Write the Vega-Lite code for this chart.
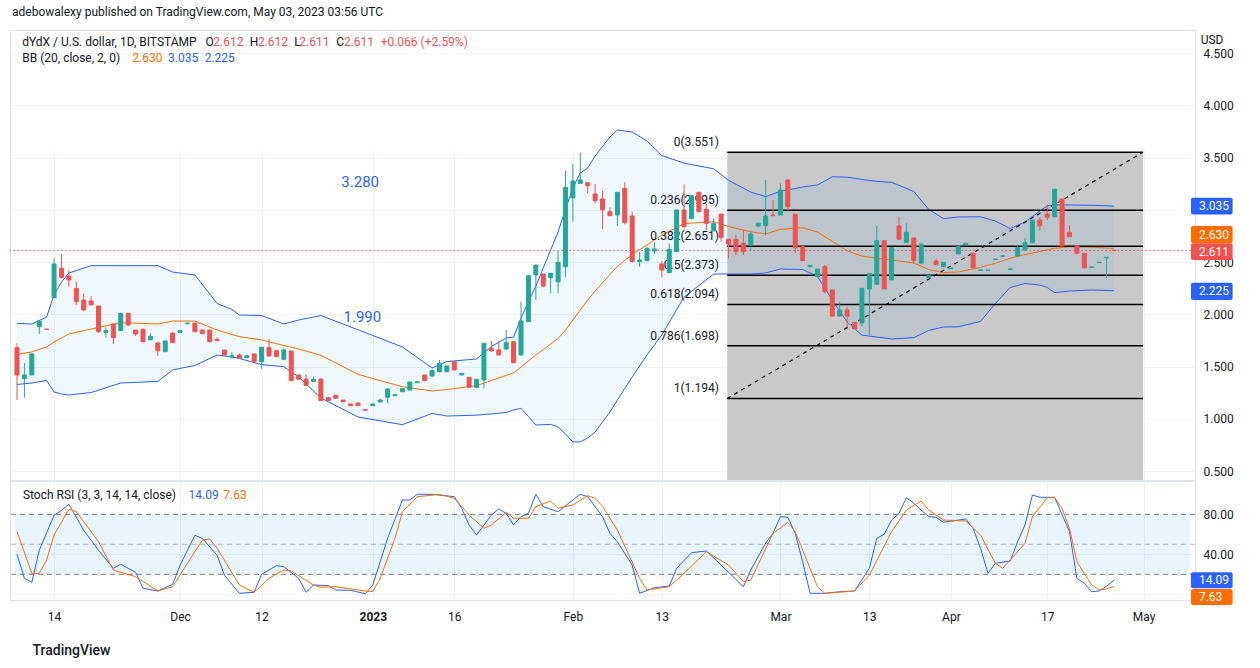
{
"$schema": "https://vega.github.io/schema/vega-lite/v6.json",
"width": 1185, "height": 570,
"autosize": "none",
"padding": {"left": 10, "top": 30, "right": 65, "bottom": 68},
"background": "#ffffff",
"title": {"text": "adebowalexy published on TradingView.com, May 03, 2023 03:56 UTC", "anchor": "start", "frame": "group", "offset": 11, "dx": 2, "fontSize": 12, "fontWeight": "normal", "color": "#131722", "font": "Roboto"},
"config": {
  "view": {"stroke": "#e0e3eb"},
  "font": "Roboto",
  "text": {"font": "Roboto"},
  "axis": {"labelFont": "Roboto", "labelFontSize": 12, "labelColor": "#131722", "domain": false, "ticks": false, "tickSize": 0, "gridColor": "#f0f3fa", "gridWidth": 1}
},
"data": {"values": [{}]},
"datasets": {
"ohlc": [
{"i":0,"o":1.680,"h":1.722,"l":1.179,"c":1.419},{"i":1,"o":1.383,"h":1.531,"l":1.201,"c":1.419},{"i":2,"o":1.419,"h":1.625,"l":1.419,"c":1.620},{"i":3,"o":1.881,"h":1.935,"l":1.811,"c":1.935},{"i":4,"o":1.858,"h":1.858,"l":1.855,"c":1.855},
{"i":5,"o":2.158,"h":2.535,"l":2.158,"c":2.481},{"i":6,"o":2.440,"h":2.577,"l":2.350,"c":2.350},{"i":7,"o":2.366,"h":2.423,"l":2.264,"c":2.328},{"i":8,"o":2.248,"h":2.311,"l":2.089,"c":2.120},{"i":9,"o":2.136,"h":2.200,"l":2.034,"c":2.041},
{"i":10,"o":2.127,"h":2.175,"l":2.089,"c":2.089},{"i":11,"o":2.079,"h":2.079,"l":1.823,"c":1.833},{"i":12,"o":1.827,"h":1.875,"l":1.776,"c":1.843},{"i":13,"o":1.907,"h":1.907,"l":1.715,"c":1.776},{"i":14,"o":1.843,"h":2.009,"l":1.843,"c":2.009},
{"i":15,"o":2.009,"h":2.009,"l":1.888,"c":1.897},{"i":16,"o":1.849,"h":1.849,"l":1.792,"c":1.811},{"i":17,"o":1.856,"h":1.865,"l":1.737,"c":1.737},{"i":18,"o":1.756,"h":1.818,"l":1.756,"c":1.789},{"i":19,"o":1.725,"h":1.737,"l":1.603,"c":1.651},
{"i":20,"o":1.642,"h":1.744,"l":1.642,"c":1.744},{"i":21,"o":1.821,"h":1.821,"l":1.728,"c":1.728},{"i":22,"o":1.827,"h":1.843,"l":1.827,"c":1.843},{"i":23,"o":1.909,"h":1.916,"l":1.909,"c":1.916},{"i":24,"o":1.916,"h":1.916,"l":1.833,"c":1.833},
{"i":25,"o":1.849,"h":1.849,"l":1.814,"c":1.814},{"i":26,"o":1.849,"h":1.849,"l":1.737,"c":1.737},{"i":27,"o":1.760,"h":1.779,"l":1.747,"c":1.747},{"i":28,"o":1.658,"h":1.658,"l":1.610,"c":1.610},{"i":29,"o":1.592,"h":1.636,"l":1.572,"c":1.603},
{"i":30,"o":1.610,"h":1.626,"l":1.572,"c":1.578},{"i":31,"o":1.584,"h":1.603,"l":1.584,"c":1.603},{"i":32,"o":1.620,"h":1.620,"l":1.536,"c":1.546},{"i":33,"o":1.546,"h":1.684,"l":1.476,"c":1.684},{"i":34,"o":1.680,"h":1.763,"l":1.600,"c":1.600},
{"i":35,"o":1.651,"h":1.651,"l":1.594,"c":1.594},{"i":36,"o":1.569,"h":1.674,"l":1.569,"c":1.658},{"i":37,"o":1.648,"h":1.648,"l":1.364,"c":1.364},{"i":38,"o":1.419,"h":1.419,"l":1.378,"c":1.378},{"i":39,"o":1.380,"h":1.425,"l":1.320,"c":1.320},
{"i":40,"o":1.358,"h":1.402,"l":1.358,"c":1.377},{"i":41,"o":1.380,"h":1.380,"l":1.173,"c":1.173},{"i":42,"o":1.201,"h":1.211,"l":1.173,"c":1.173},{"i":43,"o":1.224,"h":1.224,"l":1.196,"c":1.196},{"i":44,"o":1.179,"h":1.179,"l":1.163,"c":1.163},
{"i":45,"o":1.141,"h":1.141,"l":1.125,"c":1.125},{"i":46,"o":1.151,"h":1.151,"l":1.125,"c":1.125},{"i":47,"o":1.087,"h":1.087,"l":1.081,"c":1.081},{"i":48,"o":1.125,"h":1.141,"l":1.125,"c":1.141},{"i":49,"o":1.160,"h":1.192,"l":1.160,"c":1.179},
{"i":50,"o":1.205,"h":1.285,"l":1.148,"c":1.285},{"i":51,"o":1.221,"h":1.230,"l":1.221,"c":1.230},{"i":52,"o":1.259,"h":1.288,"l":1.259,"c":1.288},{"i":53,"o":1.275,"h":1.352,"l":1.275,"c":1.352},{"i":54,"o":1.345,"h":1.355,"l":1.345,"c":1.355},
{"i":55,"o":1.419,"h":1.419,"l":1.364,"c":1.364},{"i":56,"o":1.409,"h":1.473,"l":1.402,"c":1.460},{"i":57,"o":1.450,"h":1.562,"l":1.450,"c":1.531},{"i":58,"o":1.450,"h":1.505,"l":1.450,"c":1.505},{"i":59,"o":1.546,"h":1.546,"l":1.467,"c":1.467},
{"i":60,"o":1.419,"h":1.435,"l":1.419,"c":1.435},{"i":61,"o":1.397,"h":1.397,"l":1.301,"c":1.301},{"i":62,"o":1.301,"h":1.377,"l":1.301,"c":1.377},{"i":63,"o":1.371,"h":1.722,"l":1.291,"c":1.722},{"i":64,"o":1.674,"h":1.744,"l":1.648,"c":1.648},
{"i":65,"o":1.658,"h":1.744,"l":1.610,"c":1.610},{"i":66,"o":1.667,"h":1.849,"l":1.667,"c":1.728},{"i":67,"o":1.737,"h":1.737,"l":1.536,"c":1.536},{"i":68,"o":1.610,"h":2.120,"l":1.610,"c":1.936},{"i":69,"o":1.929,"h":2.369,"l":1.929,"c":2.369},
{"i":70,"o":2.376,"h":2.471,"l":2.136,"c":2.471},{"i":71,"o":2.385,"h":2.385,"l":2.258,"c":2.270},{"i":72,"o":2.350,"h":2.392,"l":2.200,"c":2.392},{"i":73,"o":2.311,"h":2.608,"l":2.200,"c":2.497},{"i":74,"o":2.455,"h":3.374,"l":2.354,"c":3.215},
{"i":75,"o":3.115,"h":3.438,"l":2.886,"c":3.275},{"i":76,"o":3.253,"h":3.546,"l":3.253,"c":3.285},{"i":77,"o":3.259,"h":3.259,"l":3.157,"c":3.230},{"i":78,"o":3.151,"h":3.246,"l":3.062,"c":3.087},{"i":79,"o":3.103,"h":3.182,"l":2.816,"c":2.998},
{"i":80,"o":2.981,"h":3.023,"l":2.943,"c":2.943},{"i":81,"o":2.950,"h":3.167,"l":2.844,"c":3.167},{"i":82,"o":3.205,"h":3.263,"l":2.861,"c":2.876},{"i":83,"o":2.940,"h":2.981,"l":2.503,"c":2.503},{"i":84,"o":2.503,"h":2.599,"l":2.455,"c":2.519},
{"i":85,"o":2.512,"h":2.640,"l":2.512,"c":2.631},{"i":86,"o":2.605,"h":2.694,"l":2.576,"c":2.624},{"i":87,"o":2.481,"h":2.512,"l":2.354,"c":2.423},{"i":88,"o":2.398,"h":2.679,"l":2.398,"c":2.622},{"i":89,"o":2.599,"h":2.998,"l":2.599,"c":2.998},
{"i":90,"o":2.998,"h":3.243,"l":2.822,"c":2.838},{"i":91,"o":2.918,"h":3.134,"l":2.918,"c":3.134},{"i":92,"o":3.167,"h":3.167,"l":2.981,"c":2.981},{"i":93,"o":3.004,"h":3.062,"l":2.806,"c":2.870},{"i":94,"o":2.797,"h":2.918,"l":2.797,"c":2.870},
{"i":95,"o":2.959,"h":2.959,"l":2.694,"c":2.736},{"i":96,"o":2.717,"h":2.720,"l":2.535,"c":2.672},{"i":97,"o":2.717,"h":2.758,"l":2.567,"c":2.599},{"i":98,"o":2.679,"h":2.806,"l":2.567,"c":2.599},{"i":99,"o":2.669,"h":2.800,"l":2.605,"c":2.768},
{"i":100,"o":2.845,"h":2.880,"l":2.832,"c":2.870},{"i":101,"o":2.848,"h":3.285,"l":2.759,"c":2.940},{"i":102,"o":2.950,"h":3.093,"l":2.943,"c":2.943},{"i":103,"o":2.950,"h":3.253,"l":2.950,"c":3.189},{"i":104,"o":3.285,"h":3.285,"l":2.981,"c":3.029},
{"i":105,"o":2.957,"h":2.957,"l":2.589,"c":2.637},{"i":106,"o":2.647,"h":2.647,"l":2.510,"c":2.513},{"i":107,"o":2.455,"h":2.468,"l":2.455,"c":2.468},{"i":108,"o":2.359,"h":2.433,"l":2.359,"c":2.433},{"i":109,"o":2.455,"h":2.471,"l":2.200,"c":2.216},
{"i":110,"o":2.232,"h":2.232,"l":1.983,"c":1.983},{"i":111,"o":1.983,"h":2.120,"l":1.983,"c":2.041},{"i":112,"o":2.041,"h":2.066,"l":1.866,"c":1.983},{"i":113,"o":1.923,"h":1.923,"l":1.859,"c":1.859},{"i":114,"o":1.919,"h":2.248,"l":1.881,"c":2.248},
{"i":115,"o":2.242,"h":2.392,"l":1.802,"c":2.392},{"i":116,"o":2.287,"h":2.845,"l":2.287,"c":2.704},{"i":117,"o":2.704,"h":2.704,"l":2.242,"c":2.242},{"i":118,"o":2.328,"h":2.637,"l":2.328,"c":2.637},{"i":119,"o":2.845,"h":2.934,"l":2.717,"c":2.717},
{"i":120,"o":2.685,"h":2.870,"l":2.685,"c":2.784},{"i":121,"o":2.730,"h":2.730,"l":2.481,"c":2.513},{"i":122,"o":2.488,"h":2.672,"l":2.488,"c":2.672},{"i":123,"o":2.350,"h":2.369,"l":2.350,"c":2.369},{"i":124,"o":2.510,"h":2.529,"l":2.474,"c":2.474},
{"i":125,"o":2.455,"h":2.497,"l":2.455,"c":2.497},{"i":126,"o":2.436,"h":2.443,"l":2.436,"c":2.443},{"i":127,"o":2.577,"h":2.647,"l":2.577,"c":2.647},{"i":128,"o":2.666,"h":2.679,"l":2.666,"c":2.679},{"i":129,"o":2.583,"h":2.583,"l":2.445,"c":2.445},
{"i":130,"o":2.420,"h":2.424,"l":2.420,"c":2.424},{"i":131,"o":2.420,"h":2.424,"l":2.420,"c":2.424},{"i":132,"o":2.524,"h":2.528,"l":2.524,"c":2.528},{"i":133,"o":2.555,"h":2.559,"l":2.555,"c":2.559},{"i":134,"o":2.430,"h":2.434,"l":2.430,"c":2.434},
{"i":135,"o":2.558,"h":2.663,"l":2.558,"c":2.637},{"i":136,"o":2.615,"h":2.733,"l":2.615,"c":2.685},{"i":137,"o":2.685,"h":2.902,"l":2.685,"c":2.902},{"i":138,"o":2.902,"h":2.928,"l":2.800,"c":2.847},{"i":139,"o":2.959,"h":3.052,"l":2.902,"c":2.928},
{"i":140,"o":2.933,"h":3.196,"l":2.933,"c":3.196},{"i":141,"o":3.103,"h":3.103,"l":2.653,"c":2.653},{"i":142,"o":2.784,"h":2.854,"l":2.742,"c":2.742},{"i":143,"o":2.653,"h":2.653,"l":2.583,"c":2.583},{"i":144,"o":2.583,"h":2.583,"l":2.445,"c":2.445},
{"i":145,"o":2.449,"h":2.453,"l":2.449,"c":2.453},{"i":146,"o":2.494,"h":2.498,"l":2.494,"c":2.498},{"i":147,"o":2.540,"h":2.551,"l":2.344,"c":2.545},{"i":148,"o":2.612,"h":2.612,"l":2.611,"c":2.611}
],
"bb": [
{"i":0,"up":1.913,"mid":1.617,"lo":1.328},{"i":2,"up":1.907,"mid":1.639,"lo":1.342},{"i":4,"up":1.974,"mid":1.687,"lo":1.366},{"i":5,"up":2.186,"mid":1.735,"lo":1.256},{"i":6,"up":2.309,"mid":1.773,"lo":1.237},
{"i":7,"up":2.395,"mid":1.811,"lo":1.227},{"i":10,"up":2.465,"mid":1.859,"lo":1.251},{"i":14,"up":2.465,"mid":1.919,"lo":1.342},{"i":19,"up":2.465,"mid":1.907,"lo":1.357},{"i":21,"up":2.404,"mid":1.935,"lo":1.467},
{"i":24,"up":2.376,"mid":1.935,"lo":1.510},{"i":27,"up":2.103,"mid":1.849,"lo":1.610},{"i":29,"up":2.046,"mid":1.806,"lo":1.591},{"i":30,"up":1.993,"mid":1.786,"lo":1.577},{"i":33,"up":1.988,"mid":1.754,"lo":1.517},
{"i":36,"up":1.907,"mid":1.701,"lo":1.499},{"i":38,"up":1.945,"mid":1.668,"lo":1.400},{"i":41,"up":1.988,"mid":1.607,"lo":1.199},{"i":46,"up":1.852,"mid":1.425,"lo":1.017},{"i":52,"up":1.687,"mid":1.306,"lo":0.943},
{"i":56,"up":1.486,"mid":1.266,"lo":1.051},{"i":58,"up":1.548,"mid":1.279,"lo":1.026},{"i":62,"up":1.572,"mid":1.317,"lo":1.034},{"i":64,"up":1.691,"mid":1.366,"lo":1.046},{"i":66,"up":1.773,"mid":1.415,"lo":1.060},
{"i":67,"up":1.782,"mid":1.438,"lo":1.084},{"i":68,"up":1.964,"mid":1.495,"lo":1.100},{"i":69,"up":2.117,"mid":1.553,"lo":1.022},{"i":70,"up":2.270,"mid":1.610,"lo":0.940},{"i":71,"up":2.443,"mid":1.661,"lo":0.943},
{"i":72,"up":2.615,"mid":1.715,"lo":0.946},{"i":73,"up":2.787,"mid":1.769,"lo":0.921},{"i":74,"up":3.007,"mid":1.849,"lo":0.854},{"i":75,"up":3.208,"mid":1.945,"lo":0.778},{"i":76,"up":3.352,"mid":2.041,"lo":0.778},
{"i":77,"up":3.400,"mid":2.136,"lo":0.816},{"i":78,"up":3.514,"mid":2.222,"lo":0.873},{"i":80,"up":3.696,"mid":2.380,"lo":1.065},{"i":81,"up":3.763,"mid":2.459,"lo":1.179},{"i":83,"up":3.744,"mid":2.572,"lo":1.400},
{"i":85,"up":3.658,"mid":2.663,"lo":1.610},{"i":87,"up":3.519,"mid":2.758,"lo":1.802},{"i":90,"up":3.446,"mid":2.868,"lo":2.165},{"i":94,"up":3.392,"mid":2.886,"lo":2.385},{"i":96,"up":3.282,"mid":2.840,"lo":2.385},
{"i":99,"up":3.170,"mid":2.789,"lo":2.385},{"i":101,"up":3.125,"mid":2.768,"lo":2.395},{"i":103,"up":3.177,"mid":2.813,"lo":2.433},{"i":106,"up":3.218,"mid":2.828,"lo":2.428},{"i":108,"up":3.237,"mid":2.787,"lo":2.361},
{"i":110,"up":3.316,"mid":2.698,"lo":2.136},{"i":112,"up":3.312,"mid":2.607,"lo":1.926},{"i":114,"up":3.290,"mid":2.557,"lo":1.800},{"i":116,"up":3.272,"mid":2.536,"lo":1.782},{"i":118,"up":3.263,"mid":2.519,"lo":1.763},
{"i":121,"up":3.175,"mid":2.491,"lo":1.776},{"i":123,"up":3.004,"mid":2.428,"lo":1.845},{"i":125,"up":2.915,"mid":2.399,"lo":1.878},{"i":127,"up":2.931,"mid":2.404,"lo":1.880},{"i":130,"up":2.933,"mid":2.449,"lo":1.931},
{"i":132,"up":2.892,"mid":2.488,"lo":2.103},{"i":134,"up":2.820,"mid":2.536,"lo":2.256},{"i":136,"up":2.883,"mid":2.571,"lo":2.294},{"i":138,"up":2.988,"mid":2.601,"lo":2.280},{"i":139,"up":3.036,"mid":2.617,"lo":2.256},
{"i":140,"up":3.046,"mid":2.631,"lo":2.207},{"i":142,"up":3.046,"mid":2.646,"lo":2.222},{"i":145,"up":3.043,"mid":2.642,"lo":2.232},{"i":148,"up":3.035,"mid":2.630,"lo":2.225}
],
"k": [
{"i":0,"k":40},{"i":1,"k":16},{"i":2,"k":12},{"i":3,"k":44},{"i":5,"k":79},{"i":6,"k":84},{"i":7,"k":90},{"i":9,"k":64},{"i":11,"k":44},{"i":13,"k":26},{"i":14,"k":30},{"i":16,"k":22},{"i":17,"k":6},{"i":19,"k":3.3},{"i":21,"k":10},{"i":22,"k":29},{"i":24,"k":59},{"i":25,"k":56},{"i":27,"k":39},{"i":28,"k":19},{"i":30,"k":1},{"i":32,"k":2},{"i":33,"k":20},{"i":35,"k":28.6},{"i":36,"k":27.6},{"i":38,"k":16},{"i":39,"k":2},{"i":40,"k":9.3},{"i":42,"k":8.6},{"i":43,"k":4.3},{"i":45,"k":4},{"i":47,"k":0.6},{"i":48,"k":9.3},{"i":50,"k":56},{"i":52,"k":94.3},{"i":53,"k":94.3},{"i":54,"k":100},{"i":56,"k":100},{"i":59,"k":97.6},{"i":60,"k":86},{"i":61,"k":69.3},{"i":62,"k":59.3},{"i":64,"k":79.3},{"i":65,"k":85.3},{"i":66,"k":81},{"i":67,"k":69.3},{"i":68,"k":77.6},{"i":69,"k":81},{"i":70,"k":100},{"i":71,"k":87.6},{"i":73,"k":82.6},{"i":75,"k":94.3},{"i":76,"k":100},{"i":77,"k":97.6},{"i":79,"k":77.6},{"i":80,"k":61},{"i":81,"k":52.6},{"i":83,"k":29.3},{"i":84,"k":1},{"i":86,"k":6.6},{"i":88,"k":8.3},{"i":89,"k":26},{"i":91,"k":41.6},{"i":93,"k":43.3},{"i":95,"k":29.3},{"i":98,"k":7.6},{"i":99,"k":24.3},{"i":101,"k":51},{"i":102,"k":61},{"i":103,"k":77.6},{"i":104,"k":77},{"i":105,"k":61},{"i":106,"k":32.6},{"i":107,"k":1},{"i":109,"k":1},{"i":111,"k":2.6},{"i":113,"k":3.3},{"i":115,"k":26},{"i":116,"k":56},{"i":117,"k":60},{"i":118,"k":74.3},{"i":119,"k":81},{"i":120,"k":96.6},{"i":121,"k":91},{"i":123,"k":77.6},{"i":124,"k":77},{"i":125,"k":72},{"i":128,"k":75.3},{"i":129,"k":66},{"i":130,"k":46},{"i":131,"k":21},{"i":132,"k":31},{"i":134,"k":33.3},{"i":135,"k":52.6},{"i":136,"k":69.3},{"i":137,"k":99.3},{"i":138,"k":97},{"i":140,"k":97},{"i":142,"k":62.6},{"i":143,"k":16},{"i":144,"k":11},{"i":145,"k":2.6},{"i":146,"k":3.3},{"i":147,"k":8},{"i":148,"k":14.09}
],
"d": [
{"i":0,"d":62.6},{"i":2,"d":21},{"i":3,"d":21},{"i":4,"d":34.3},{"i":5,"d":59.3},{"i":7,"d":85},{"i":8,"d":82.6},{"i":11,"d":52.6},{"i":13,"d":24.3},{"i":16,"d":17.6},{"i":19,"d":3.3},{"i":21,"d":7.6},{"i":23,"d":31},{"i":25,"d":54.3},{"i":26,"d":55.3},{"i":27,"d":46},{"i":30,"d":9.3},{"i":32,"d":2},{"i":34,"d":16},{"i":36,"d":24.3},{"i":37,"d":23.3},{"i":40,"d":9.3},{"i":41,"d":7},{"i":43,"d":7.6},{"i":47,"d":3.3},{"i":48,"d":2.6},{"i":49,"d":16},{"i":51,"d":56},{"i":52,"d":82.6},{"i":54,"d":97.6},{"i":57,"d":100},{"i":59,"d":96},{"i":61,"d":79.3},{"i":63,"d":66},{"i":64,"d":69.3},{"i":66,"d":82},{"i":67,"d":76},{"i":69,"d":76},{"i":70,"d":87.6},{"i":72,"d":93.3},{"i":73,"d":86},{"i":75,"d":89.3},{"i":77,"d":98.6},{"i":78,"d":96},{"i":79,"d":88},{"i":80,"d":76},{"i":81,"d":64.3},{"i":84,"d":16},{"i":85,"d":4.3},{"i":88,"d":7.6},{"i":90,"d":21},{"i":93,"d":42.6},{"i":96,"d":29.3},{"i":98,"d":12.6},{"i":99,"d":14.3},{"i":102,"d":61},{"i":104,"d":72},{"i":105,"d":62.6},{"i":108,"d":7.6},{"i":109,"d":1},{"i":113,"d":3.3},{"i":115,"d":19.3},{"i":118,"d":62.6},{"i":120,"d":84.3},{"i":122,"d":93.3},{"i":123,"d":84.3},{"i":125,"d":74.3},{"i":128,"d":73.3},{"i":130,"d":59.3},{"i":132,"d":31},{"i":133,"d":26},{"i":134,"d":34.3},{"i":136,"d":51},{"i":137,"d":77.6},{"i":139,"d":96.6},{"i":140,"d":96.6},{"i":141,"d":86},{"i":142,"d":66},{"i":143,"d":32.6},{"i":145,"d":9.3},{"i":146,"d":4.3},{"i":147,"d":5.5},{"i":148,"d":7.63}
],
"fib": [
{"p":3.551,"t":"0(3.551)"},{"p":2.995,"t":"0.236(2.995)"},{"p":2.651,"t":"0.382(2.651)"},{"p":2.373,"t":"0.5(2.373)"},{"p":2.094,"t":"0.618(2.094)"},{"p":1.698,"t":"0.786(1.698)"},{"p":1.194,"t":"1(1.194)"}
]
},
"layer": [
{
"layer": [
 {"mark": {"type": "rect", "color": "#c9c9c9"},
  "encoding": {"x": {"datum": 95.83, "type": "quantitative"}, "x2": {"datum": 151.93}, "y": {"datum": 3.551, "type": "quantitative"}, "y2": {"datum": 0.4139}}},
 {"data": {"name": "bb"}, "mark": {"type": "area", "color": "#2196f3", "opacity": 0.07},
  "encoding": {
   "x": {"field": "i", "type": "quantitative", "scale": {"domain": [-0.27, 158.26], "nice": false, "zero": false},
     "axis": {"values": [5,22,33,48,59,75,87,103,115,126,139,152],
       "labelExpr": "datum.value==5?'14':datum.value==22?'Dec':datum.value==33?'12':datum.value==48?'2023':datum.value==59?'16':datum.value==75?'Feb':datum.value==87?'13':datum.value==103?'Mar':datum.value==115?'13':datum.value==126?'Apr':datum.value==139?'17':datum.value==152?'May':''",
       "labelFontWeight": {"condition": {"test": "datum.value == 48", "value": "bold"}, "value": "normal"},
       "labelPadding": 11, "labelFlush": false, "labelOverlap": false, "grid": true,
       "title": "TradingView", "titleX": 22, "titleY": 50, "titleAlign": "left", "titleAnchor": "start", "titleBaseline": "middle", "titleFontSize": 14, "titleFontWeight": 500, "titleColor": "#131722", "titleFont": "Roboto"}},
   "y": {"field": "up", "type": "quantitative", "scale": {"domain": [0.4139, 4.7202], "range": [450, 0], "nice": false, "zero": false},
     "axis": {"orient": "right", "values": [0.5,1,1.5,2,2.5,3,3.5,4,4.5], "format": ".3f", "labelExpr": "datum.value == 3 ? '' : datum.label", "labelPadding": 8, "grid": true, "title": null, "labelAlign": "left", "labelBaseline": "middle"}},
   "y2": {"field": "lo"}}},
 {"data": {"name": "bb"}, "mark": {"type": "line", "color": "#2962ff", "strokeWidth": 1},
  "encoding": {"x": {"field": "i", "type": "quantitative"}, "y": {"field": "up", "type": "quantitative"}}},
 {"data": {"name": "bb"}, "mark": {"type": "line", "color": "#2962ff", "strokeWidth": 1},
  "encoding": {"x": {"field": "i", "type": "quantitative"}, "y": {"field": "lo", "type": "quantitative"}}},
 {"data": {"name": "bb"}, "mark": {"type": "line", "color": "#ff6d00", "strokeWidth": 1},
  "encoding": {"x": {"field": "i", "type": "quantitative"}, "y": {"field": "mid", "type": "quantitative"}}},
 {"data": {"name": "fib"}, "mark": {"type": "rule", "color": "#000000", "strokeWidth": 1.5},
  "encoding": {"x": {"datum": 95.83, "type": "quantitative"}, "x2": {"datum": 151.93}, "y": {"field": "p", "type": "quantitative"}}},
 {"data": {"name": "fib"}, "mark": {"type": "text", "align": "right", "baseline": "bottom", "dy": -3, "fontSize": 12, "color": "#131722"},
  "encoding": {"x": {"datum": 94.7, "type": "quantitative"}, "y": {"field": "p", "type": "quantitative"}, "text": {"field": "t"}}},
 {"mark": {"type": "rule", "color": "#000000", "strokeWidth": 1.2, "strokeDash": [4, 4]},
  "encoding": {"x": {"datum": 95.83, "type": "quantitative"}, "y": {"datum": 1.194, "type": "quantitative"}, "x2": {"datum": 151.93}, "y2": {"datum": 3.551}}},
 {"mark": {"type": "rule", "color": "#ef5350", "strokeWidth": 1, "strokeDash": [1.5, 2.5]},
  "encoding": {"y": {"datum": 2.611, "type": "quantitative"}}},
 {"mark": {"type": "text", "color": "#2962ff", "fontSize": 15, "align": "center", "baseline": "middle"},
  "encoding": {"x": {"datum": 46.3, "type": "quantitative"}, "y": {"datum": 3.27, "type": "quantitative"}, "text": {"value": "3.280"}}},
 {"mark": {"type": "text", "color": "#2962ff", "fontSize": 15, "align": "center", "baseline": "middle"},
  "encoding": {"x": {"datum": 46.6, "type": "quantitative"}, "y": {"datum": 1.978, "type": "quantitative"}, "text": {"value": "1.990"}}},
 {"data": {"name": "ohlc"}, "mark": {"type": "rule", "strokeWidth": 1},
  "encoding": {"x": {"field": "i", "type": "quantitative"}, "y": {"field": "l", "type": "quantitative"}, "y2": {"field": "h"},
   "color": {"condition": {"test": "datum.c >= datum.o", "value": "#26a69a"}, "value": "#ef5350"}}},
 {"data": {"name": "ohlc"}, "mark": {"type": "bar", "size": 4, "orient": "vertical", "strokeWidth": 1},
  "encoding": {"x": {"field": "i", "type": "quantitative"}, "y": {"field": "o", "type": "quantitative"}, "y2": {"field": "c"},
   "fill": {"condition": {"test": "datum.c >= datum.o", "value": "#26a69a"}, "value": "#ef5350"},
   "stroke": {"condition": {"test": "datum.c >= datum.o", "value": "#26a69a"}, "value": "#ef5350"}}},
 {"mark": {"type": "text", "align": "left", "baseline": "middle", "fontSize": 12, "color": "#131722"},
  "encoding": {"x": {"datum": 0.71, "type": "quantitative"}, "y": {"datum": 4.605, "type": "quantitative"}, "text": {"value": "dYdX / U.S. dollar, 1D, BITSTAMP"}}},
 {"mark": {"type": "text", "align": "left", "baseline": "middle", "fontSize": 12, "color": "#131722"},
  "encoding": {"x": {"datum": 25.42, "type": "quantitative"}, "y": {"datum": 4.605, "type": "quantitative"}, "text": {"value": "O"}}},
 {"mark": {"type": "text", "align": "left", "baseline": "middle", "fontSize": 12, "color": "#131722"},
  "encoding": {"x": {"datum": 31.4, "type": "quantitative"}, "y": {"datum": 4.605, "type": "quantitative"}, "text": {"value": "H"}}},
 {"mark": {"type": "text", "align": "left", "baseline": "middle", "fontSize": 12, "color": "#131722"},
  "encoding": {"x": {"datum": 37.42, "type": "quantitative"}, "y": {"datum": 4.605, "type": "quantitative"}, "text": {"value": "L"}}},
 {"mark": {"type": "text", "align": "left", "baseline": "middle", "fontSize": 12, "color": "#131722"},
  "encoding": {"x": {"datum": 43.08, "type": "quantitative"}, "y": {"datum": 4.605, "type": "quantitative"}, "text": {"value": "C"}}},
 {"mark": {"type": "text", "align": "left", "baseline": "middle", "fontSize": 12, "color": "#ef5350"},
  "encoding": {"x": {"datum": 26.49, "type": "quantitative"}, "y": {"datum": 4.605, "type": "quantitative"}, "text": {"value": "2.612"}}},
 {"mark": {"type": "text", "align": "left", "baseline": "middle", "fontSize": 12, "color": "#ef5350"},
  "encoding": {"x": {"datum": 32.51, "type": "quantitative"}, "y": {"datum": 4.605, "type": "quantitative"}, "text": {"value": "2.612"}}},
 {"mark": {"type": "text", "align": "left", "baseline": "middle", "fontSize": 12, "color": "#ef5350"},
  "encoding": {"x": {"datum": 38.09, "type": "quantitative"}, "y": {"datum": 4.605, "type": "quantitative"}, "text": {"value": "2.611"}}},
 {"mark": {"type": "text", "align": "left", "baseline": "middle", "fontSize": 12, "color": "#ef5350"},
  "encoding": {"x": {"datum": 44.11, "type": "quantitative"}, "y": {"datum": 4.605, "type": "quantitative"}, "text": {"value": "2.611"}}},
 {"mark": {"type": "text", "align": "left", "baseline": "middle", "fontSize": 12, "color": "#ef5350"},
  "encoding": {"x": {"datum": 49.06, "type": "quantitative"}, "y": {"datum": 4.605, "type": "quantitative"}, "text": {"value": "+0.066 (+2.59%)"}}},
 {"mark": {"type": "text", "align": "left", "baseline": "middle", "fontSize": 12, "color": "#131722"},
  "encoding": {"x": {"datum": 0.71, "type": "quantitative"}, "y": {"datum": 4.452, "type": "quantitative"}, "text": {"value": "BB (20, close, 2, 0)"}}},
 {"mark": {"type": "text", "align": "left", "baseline": "middle", "fontSize": 12, "color": "#ff6d00"},
  "encoding": {"x": {"datum": 15.56, "type": "quantitative"}, "y": {"datum": 4.452, "type": "quantitative"}, "text": {"value": "2.630"}}},
 {"mark": {"type": "text", "align": "left", "baseline": "middle", "fontSize": 12, "color": "#2962ff"},
  "encoding": {"x": {"datum": 20.37, "type": "quantitative"}, "y": {"datum": 4.452, "type": "quantitative"}, "text": {"value": "3.035"}}},
 {"mark": {"type": "text", "align": "left", "baseline": "middle", "fontSize": 12, "color": "#2962ff"},
  "encoding": {"x": {"datum": 25.32, "type": "quantitative"}, "y": {"datum": 4.452, "type": "quantitative"}, "text": {"value": "2.225"}}},
 {"mark": {"type": "text", "align": "left", "baseline": "middle", "fontSize": 12, "color": "#131722"},
  "encoding": {"x": {"datum": 159.7, "type": "quantitative"}, "y": {"datum": 4.624, "type": "quantitative"}, "text": {"value": "USD"}}},
 {"mark": {"type": "rect", "color": "#2962ff", "cornerRadius": 2},
  "encoding": {"x": {"datum": 158.39, "type": "quantitative"}, "x2": {"datum": 164.01}, "y": {"datum": 3.114, "type": "quantitative"}, "y2": {"datum": 2.955}}},
 {"mark": {"type": "rect", "color": "#ff6d00", "cornerRadius": 2},
  "encoding": {"x": {"datum": 158.39, "type": "quantitative"}, "x2": {"datum": 164.01}, "y": {"datum": 2.845, "type": "quantitative"}, "y2": {"datum": 2.679}}},
 {"mark": {"type": "rect", "color": "#ef5350", "cornerRadius": 2},
  "encoding": {"x": {"datum": 158.39, "type": "quantitative"}, "x2": {"datum": 164.01}, "y": {"datum": 2.679, "type": "quantitative"}, "y2": {"datum": 2.519}}},
 {"mark": {"type": "rect", "color": "#2962ff", "cornerRadius": 2},
  "encoding": {"x": {"datum": 158.39, "type": "quantitative"}, "x2": {"datum": 164.01}, "y": {"datum": 2.302, "type": "quantitative"}, "y2": {"datum": 2.136}}},
 {"mark": {"type": "text", "align": "left", "baseline": "middle", "fontSize": 12, "color": "#ffffff"},
  "encoding": {"x": {"datum": 159.46, "type": "quantitative"}, "y": {"datum": 3.035, "type": "quantitative"}, "text": {"value": "3.035"}}},
 {"mark": {"type": "text", "align": "left", "baseline": "middle", "fontSize": 12, "color": "#ffffff"},
  "encoding": {"x": {"datum": 159.46, "type": "quantitative"}, "y": {"datum": 2.762, "type": "quantitative"}, "text": {"value": "2.630"}}},
 {"mark": {"type": "text", "align": "left", "baseline": "middle", "fontSize": 12, "color": "#ffffff"},
  "encoding": {"x": {"datum": 159.46, "type": "quantitative"}, "y": {"datum": 2.599, "type": "quantitative"}, "text": {"value": "2.611"}}},
 {"mark": {"type": "text", "align": "left", "baseline": "middle", "fontSize": 12, "color": "#ffffff"},
  "encoding": {"x": {"datum": 159.46, "type": "quantitative"}, "y": {"datum": 2.219, "type": "quantitative"}, "text": {"value": "2.225"}}}
]
},
{
"layer": [
 {"mark": {"type": "rect", "color": "#2196f3", "opacity": 0.1},
  "encoding": {"x": {"datum": -0.27, "type": "quantitative"}, "x2": {"datum": 158.26}, "y": {"datum": 80, "type": "quantitative"}, "y2": {"datum": 20}}},
 {"mark": {"type": "rule", "color": "#787b86", "strokeWidth": 1, "strokeDash": [5, 4]},
  "encoding": {"y": {"datum": 80, "type": "quantitative"}}},
 {"mark": {"type": "rule", "color": "#787b86", "strokeWidth": 1, "strokeDash": [5, 4], "opacity": 0.5},
  "encoding": {"y": {"datum": 50, "type": "quantitative"}}},
 {"mark": {"type": "rule", "color": "#787b86", "strokeWidth": 1, "strokeDash": [5, 4]},
  "encoding": {"y": {"datum": 20, "type": "quantitative"}}},
 {"mark": {"type": "rule", "color": "#e0e3eb", "strokeWidth": 2},
  "encoding": {"y": {"datum": 113.3, "type": "quantitative"}}},
 {"data": {"name": "k"}, "mark": {"type": "line", "color": "#2962ff", "strokeWidth": 1},
  "encoding": {"x": {"field": "i", "type": "quantitative"},
   "y": {"field": "k", "type": "quantitative", "scale": {"domain": [-5.7, 112.3], "range": [570, 452], "nice": false, "zero": false},
     "axis": {"orient": "right", "values": [0, 40, 80], "format": ".2f", "labelExpr": "datum.value == 0 ? '' : datum.label", "labelPadding": 8, "grid": true, "title": null, "labelAlign": "left", "labelBaseline": "middle"}}}},
 {"data": {"name": "d"}, "mark": {"type": "line", "color": "#ff6d00", "strokeWidth": 1},
  "encoding": {"x": {"field": "i", "type": "quantitative"}, "y": {"field": "d", "type": "quantitative"}}},
 {"mark": {"type": "text", "align": "left", "baseline": "middle", "fontSize": 12, "color": "#131722"},
  "encoding": {"x": {"datum": 0.8, "type": "quantitative"}, "y": {"datum": 99.3, "type": "quantitative"}, "text": {"value": "Stoch RSI (3, 3, 14, 14, close)"}}},
 {"mark": {"type": "text", "align": "left", "baseline": "middle", "fontSize": 12, "color": "#2962ff"},
  "encoding": {"x": {"datum": 23.14, "type": "quantitative"}, "y": {"datum": 99.3, "type": "quantitative"}, "text": {"value": "14.09"}}},
 {"mark": {"type": "text", "align": "left", "baseline": "middle", "fontSize": 12, "color": "#ff6d00"},
  "encoding": {"x": {"datum": 27.83, "type": "quantitative"}, "y": {"datum": 99.3, "type": "quantitative"}, "text": {"value": "7.63"}}},
 {"mark": {"type": "rect", "color": "#2962ff", "cornerRadius": 2},
  "encoding": {"x": {"datum": 158.39, "type": "quantitative"}, "x2": {"datum": 164.01}, "y": {"datum": 22.1, "type": "quantitative"}, "y2": {"datum": 6.1}}},
 {"mark": {"type": "rect", "color": "#ff6d00", "cornerRadius": 2},
  "encoding": {"x": {"datum": 158.39, "type": "quantitative"}, "x2": {"datum": 164.01}, "y": {"datum": 5.3, "type": "quantitative"}, "y2": {"datum": -10.7}}},
 {"mark": {"type": "text", "align": "left", "baseline": "middle", "fontSize": 12, "color": "#ffffff"},
  "encoding": {"x": {"datum": 159.46, "type": "quantitative"}, "y": {"datum": 14.1, "type": "quantitative"}, "text": {"value": "14.09"}}},
 {"mark": {"type": "text", "align": "left", "baseline": "middle", "fontSize": 12, "color": "#ffffff"},
  "encoding": {"x": {"datum": 159.46, "type": "quantitative"}, "y": {"datum": -2.7, "type": "quantitative"}, "text": {"value": "7.63"}}}
]
}
],
"resolve": {"scale": {"y": "independent"}, "axis": {"y": "independent"}}
}
